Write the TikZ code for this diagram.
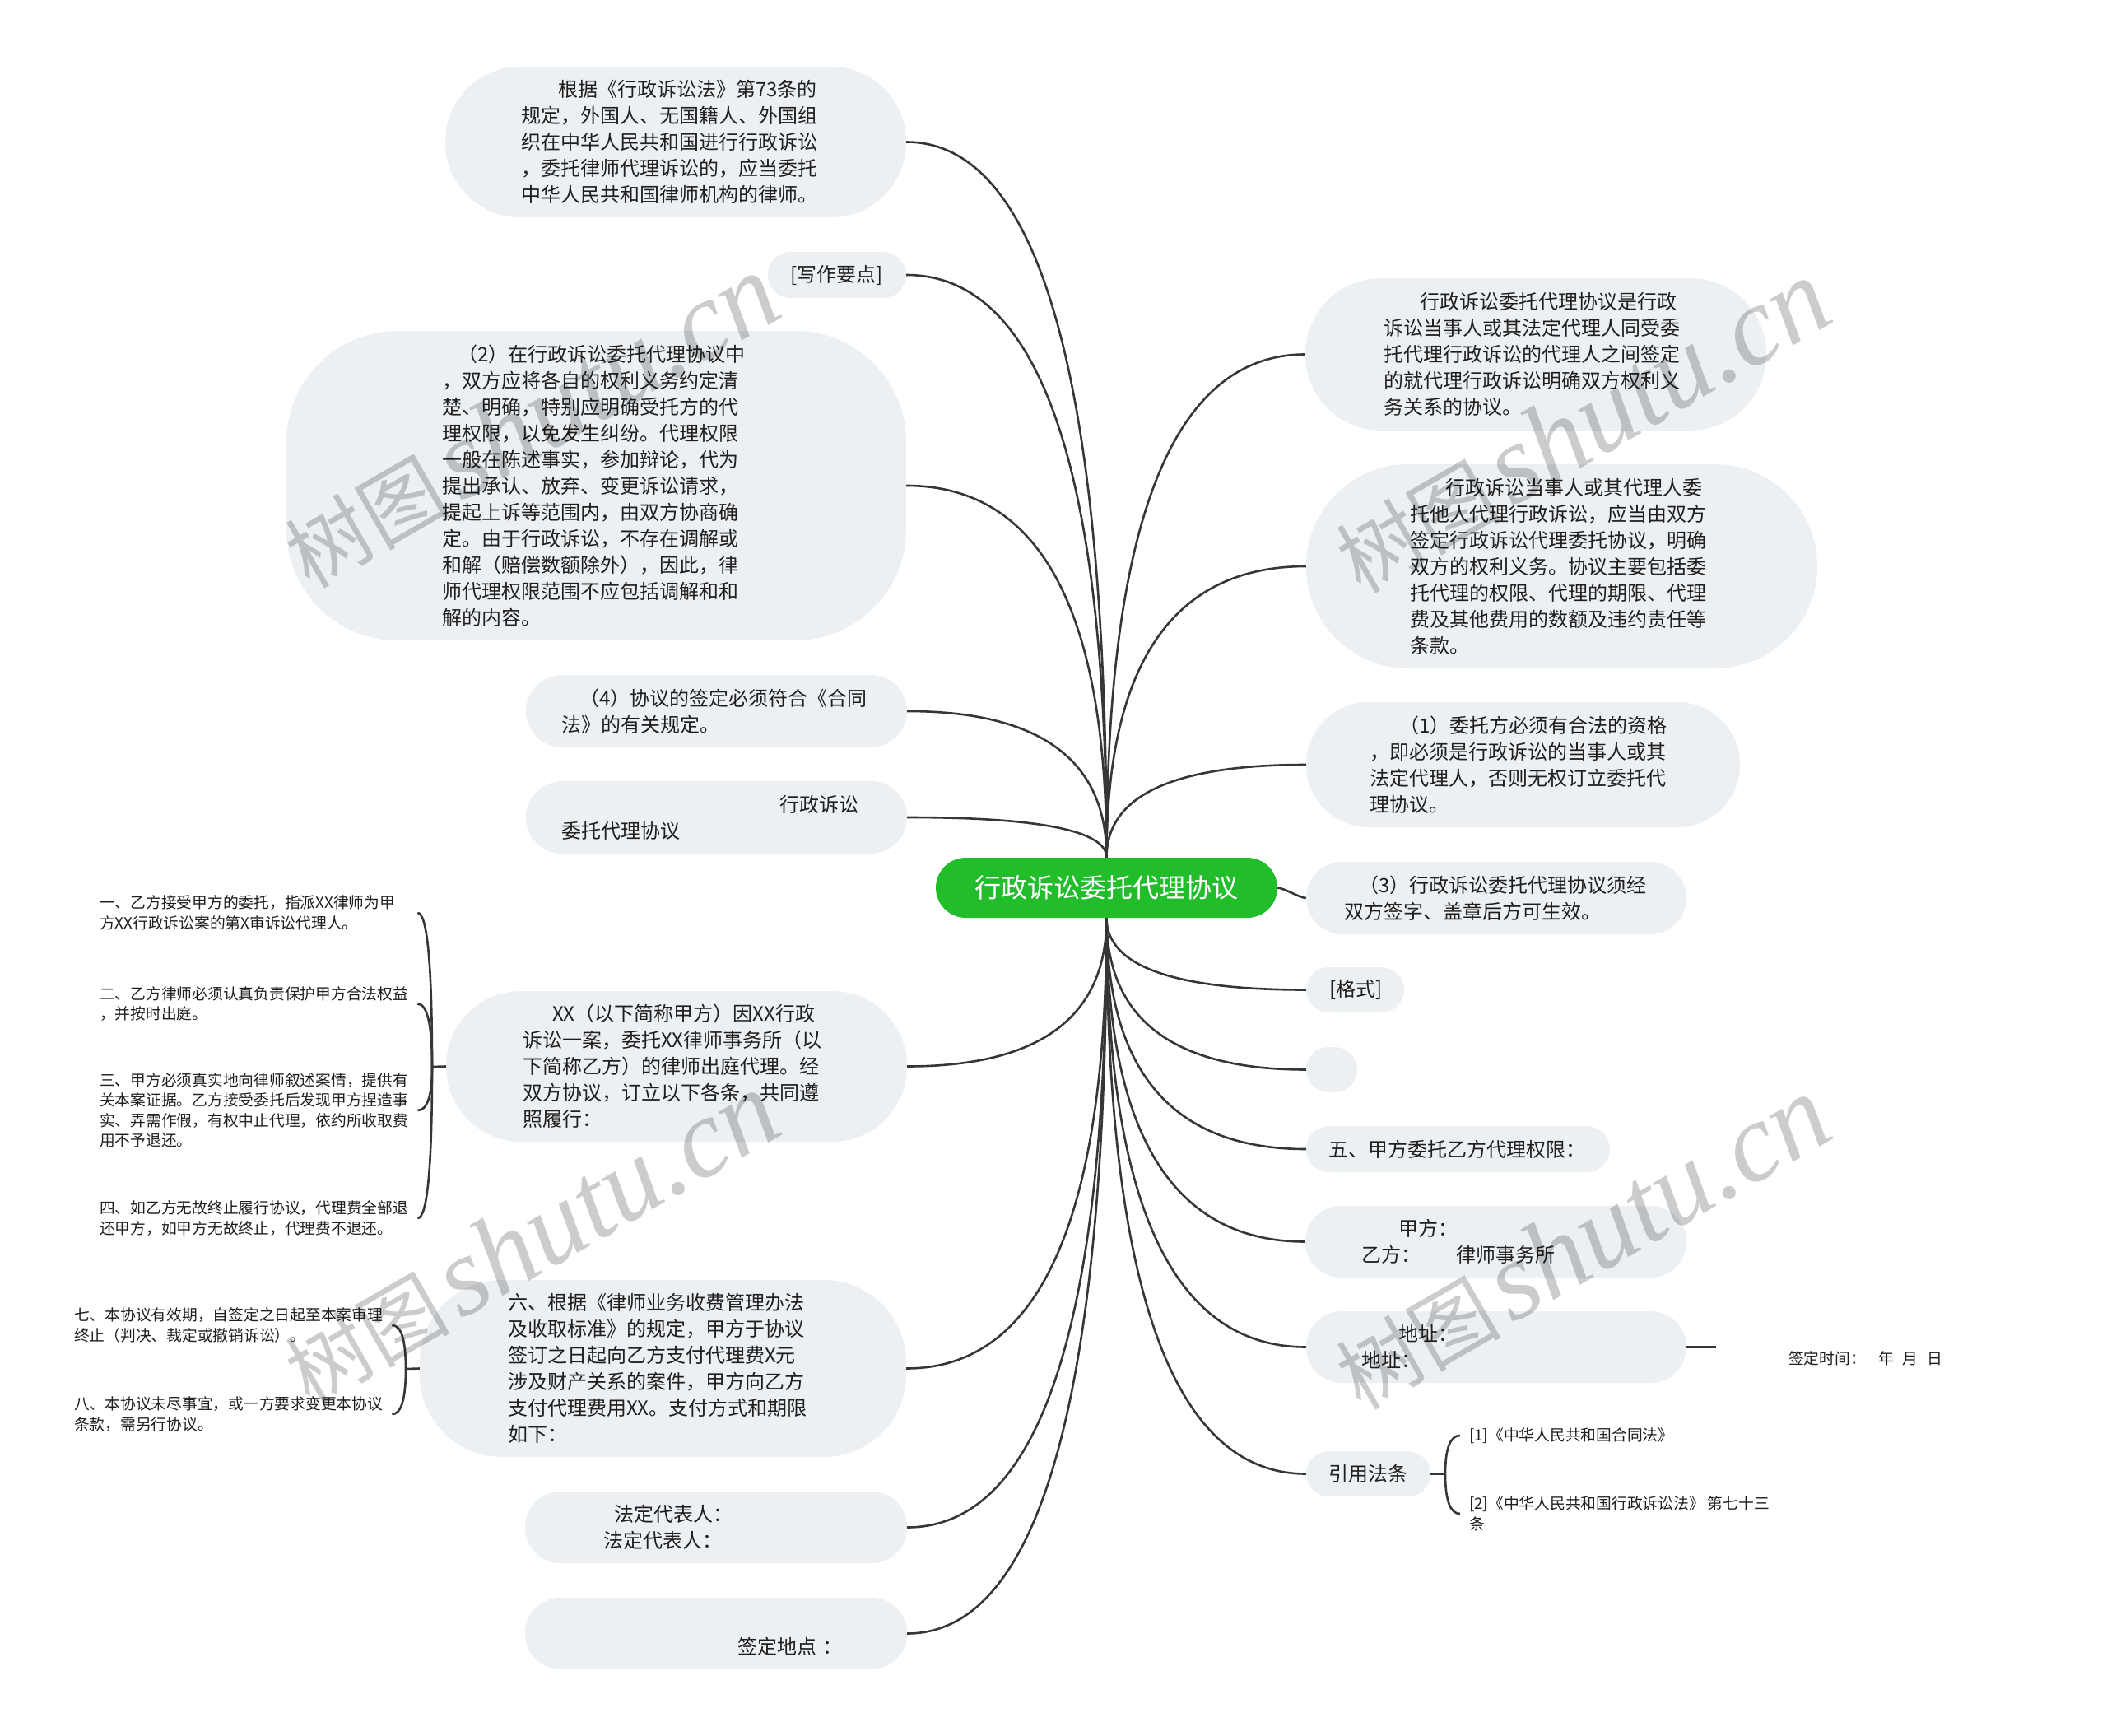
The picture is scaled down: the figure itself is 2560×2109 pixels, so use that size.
\documentclass[tikz,border=0pt]{standalone}
\usepackage{fontspec}
\setmainfont{Noto Sans CJK SC}
\newfontfamily\wmlatin{Liberation Serif}
\usetikzlibrary{calc}
\definecolor{boxc}{HTML}{EDF0F3}
\definecolor{rootc}{HTML}{21BD2A}
\definecolor{linec}{HTML}{363636}
\definecolor{txtc}{HTML}{1F1F1F}
\newcommand\qconn[2]{\draw[conn] (#1) .. controls ($(#1)!0.667!(#1 |- #2)$) and ($(#2)!0.667!(#1 |- #2)$) .. (#2);}
\newcommand\bubble[8]{%
  \pgfmathsetmacro\bubW{#4-#2}%
  \pgfmathsetmacro\bubH{#5-#3}%
  \pgfmathsetmacro\bubX{(#2+#4)/2}%
  \pgfmathsetmacro\bubY{(#3+#5)/2}%
  \pgfmathsetmacro\bubTW{#2+#4-2*#7}%
  \node[bub=#6pt, minimum width=\bubW pt, minimum height=\bubH pt, text width=\bubTW pt] (#1) at (\bubX,\bubY) {#8};}
\begin{document}
\begin{tikzpicture}[x=1pt,y=-1pt,
  bub/.style={fill=boxc, rounded corners=#1, inner sep=0pt, align=left, text=txtc, font=\fontsize{24}{32}\selectfont},
  rootnode/.style={fill=rootc, rounded corners=36.5pt, inner sep=0pt, minimum width=415pt, minimum height=73pt, text=white, font=\fontsize{32}{40}\selectfont},
  conn/.style={draw=linec, line width=2.6pt},
  note/.style={anchor=west, inner sep=0pt, align=left, text=txtc, font=\fontsize{18.75}{24.5}\selectfont},
  wm/.style={text=black, text opacity=0.2, inner sep=0pt, rotate=30}]
\fill[white] (0,0) rectangle (2560,2109);
\useasboundingbox (0,0) rectangle (2560,2109);

\node[rootnode] (C) at (1344.5,1078.5) {行政诉讼委托代理协议};

% left side
\bubble{N1}{541}{81}{1101}{264}{91}{633}{\hspace*{45pt}根据《行政诉讼法》第73条的\\规定，外国人、无国籍人、外国组\\织在中华人民共和国进行行政诉讼\\，委托律师代理诉讼的，应当委托\\中华人民共和国律师机构的律师。}
\bubble{N2}{933}{306}{1101}{362}{28}{960}{[写作要点]}
\bubble{N3}{348}{402}{1101}{778}{135}{537}{\hspace*{19pt}（2）在行政诉讼委托代理协议中\\，双方应将各自的权利义务约定清\\楚、明确，特别应明确受托方的代\\理权限，以免发生纠纷。代理权限\\一般在陈述事实，参加辩论，代为\\提出承认、放弃、变更诉讼请求，\\提起上诉等范围内，由双方协商确\\定。由于行政诉讼，不存在调解或\\和解（赔偿数额除外），因此，律\\师代理权限范围不应包括调解和和\\解的内容。}
\bubble{N4}{639}{820}{1102}{908}{44}{682}{\hspace*{22pt}（4）协议的签定必须符合《合同\\法》的有关规定。}
\bubble{N5}{639}{949}{1102}{1037}{44}{682}{\hspace*{265pt}行政诉讼\\委托代理协议}
\bubble{N6}{542}{1204}{1102}{1387}{91}{635}{\hspace*{36pt}XX（以下简称甲方）因XX行政\\诉讼一案，委托XX律师事务所（以\\下简称乙方）的律师出庭代理。经\\双方协议，订立以下各条，共同遵\\照履行：}
\bubble{N7}{510}{1555}{1101}{1770}{100}{617}{六、根据《律师业务收费管理办法\\及收取标准》的规定，甲方于协议\\签订之日起向乙方支付代理费X元\\涉及财产关系的案件，甲方向乙方\\支付代理费用XX。支付方式和期限\\如下：}
\bubble{N8}{638}{1812}{1102}{1899}{43}{733}{\hspace*{13pt}法定代表人：\\法定代表人：}
\bubble{N9}{638}{1941}{1102}{2028}{43}{690}{\rule{0pt}{20pt}\\\hspace*{206pt}签定地点~：}

% right side
\bubble{R1}{1586}{338}{2146}{523}{92}{1681}{\hspace*{44pt}行政诉讼委托代理协议是行政\\诉讼当事人或其法定代理人同受委\\托代理行政诉讼的代理人之间签定\\的就代理行政诉讼明确双方权利义\\务关系的协议。}
\bubble{R2}{1587}{564}{2208}{812}{124}{1713}{\hspace*{43pt}行政诉讼当事人或其代理人委\\托他人代理行政诉讼，应当由双方\\签定行政诉讼代理委托协议，明确\\双方的权利义务。协议主要包括委\\托代理的权限、代理的期限、代理\\费及其他费用的数额及违约责任等\\条款。}
\bubble{R3}{1587}{853}{2114}{1005}{76}{1664}{\hspace*{36pt}（1）委托方必须有合法的资格\\，即必须是行政诉讼的当事人或其\\法定代理人，否则无权订立委托代\\理协议。}
\bubble{R4}{1587}{1047}{2049}{1135}{44}{1633}{\hspace*{18pt}（3）行政诉讼委托代理协议须经\\双方签字、盖章后方可生效。}
\bubble{R5}{1587}{1175}{1706}{1230}{27.5}{1615}{[格式]}
\bubble{R6}{1587}{1272}{1649}{1327}{27.5}{1600}{}
\bubble{R7}{1587}{1368}{1956}{1424}{28}{1614}{五、甲方委托乙方代理权限：}
\bubble{R8}{1586}{1465}{2049}{1552}{43}{1654}{\hspace*{45pt}甲方：\\乙方：\hspace*{43pt}律师事务所}
\bubble{R9}{1587}{1593}{2049}{1680}{43}{1654}{\hspace*{45pt}地址：\\地址：}
\bubble{R10}{1587}{1763}{1738}{1818}{27.5}{1614}{引用法条}

% children of N6
\node[note, text width=386pt] (C1) at (121,1109) {一、乙方接受甲方的委托，指派XX律师为甲\\方XX行政诉讼案的第X审诉讼代理人。};
\node[note, text width=386pt] (C2) at (121,1219.5) {二、乙方律师必须认真负责保护甲方合法权益\\，并按时出庭。};
\node[note, text width=386pt] (C3) at (121,1349) {三、甲方必须真实地向律师叙述案情，提供有\\关本案证据。乙方接受委托后发现甲方捏造事\\实、弄需作假，有权中止代理，依约所收取费\\用不予退还。};
\node[note, text width=386pt] (C4) at (121,1480) {四、如乙方无故终止履行协议，代理费全部退\\还甲方，如甲方无故终止，代理费不退还。};
% children of N7
\node[note, text width=386pt] (D1) at (90,1610) {七、本协议有效期，自签定之日起至本案审理\\终止（判决、裁定或撤销诉讼）。};
\node[note, text width=386pt] (D2) at (90,1718) {八、本协议未尽事宜，或一方要求变更本协议\\条款，需另行协议。};
% children of R10
\node[note, inner xsep=11pt] (L1) at (1774,1744) {[1]《中华人民共和国合同法》};
\node[note, inner xsep=11pt] (L2) at (1774,1839) {[2]《中华人民共和国行政诉讼法》 第七十三\\条};
% child of R9
\node[note] (Sig) at (2173,1650) {签定时间：\hspace{16pt}年\hspace{10pt}月\hspace{11pt}日};
\coordinate (SigP) at (2085,1636.5);

\coordinate (J6) at (525,1296);
\coordinate (J7) at (493,1663);
\coordinate (J10) at (1756,1790.5);

% main connectors
\qconn{C.north}{N1.east}
\qconn{C.north}{N2.east}
\qconn{C.north}{N3.east}
\qconn{C.north}{N4.east}
\qconn{C.north}{N5.east}
\qconn{C.south}{N6.east}
\qconn{C.south}{N7.east}
\qconn{C.south}{N8.east}
\qconn{C.south}{N9.east}
\qconn{C.north}{R1.west}
\qconn{C.north}{R2.west}
\qconn{C.north}{R3.west}
\draw[conn] (C.east) to[out=0,in=180,looseness=0.5] (R4.west);
\qconn{C.south}{R5.west}
\qconn{C.south}{R6.west}
\qconn{C.south}{R7.west}
\qconn{C.south}{R8.west}
\qconn{C.south}{R9.west}
\qconn{C.south}{R10.west}

% braces
\draw[conn] (N6.west) -- (J6);
\qconn{J6}{C1.east}
\qconn{J6}{C2.east}
\qconn{J6}{C3.east}
\qconn{J6}{C4.east}
\draw[conn] (N7.west) -- (J7);
\qconn{J7}{D1.east}
\qconn{J7}{D2.east}
\draw[conn] (R10.east) -- (J10);
\qconn{J10}{L1.west}
\qconn{J10}{L2.west}
\draw[conn] (R9.east) -- (SigP);

% watermarks
\foreach \wx/\wy [count=\wi] in {645/512, 1922/518, 645/1505, 1922/1510}{
  \node[wm] (W\wi) at (\wx,\wy) {{\fontsize{100}{100}\selectfont 树图}\hspace{12pt}{\wmlatin\itshape\fontsize{136}{136}\selectfont shutu.cn}};
}
\end{tikzpicture}
\end{document}
